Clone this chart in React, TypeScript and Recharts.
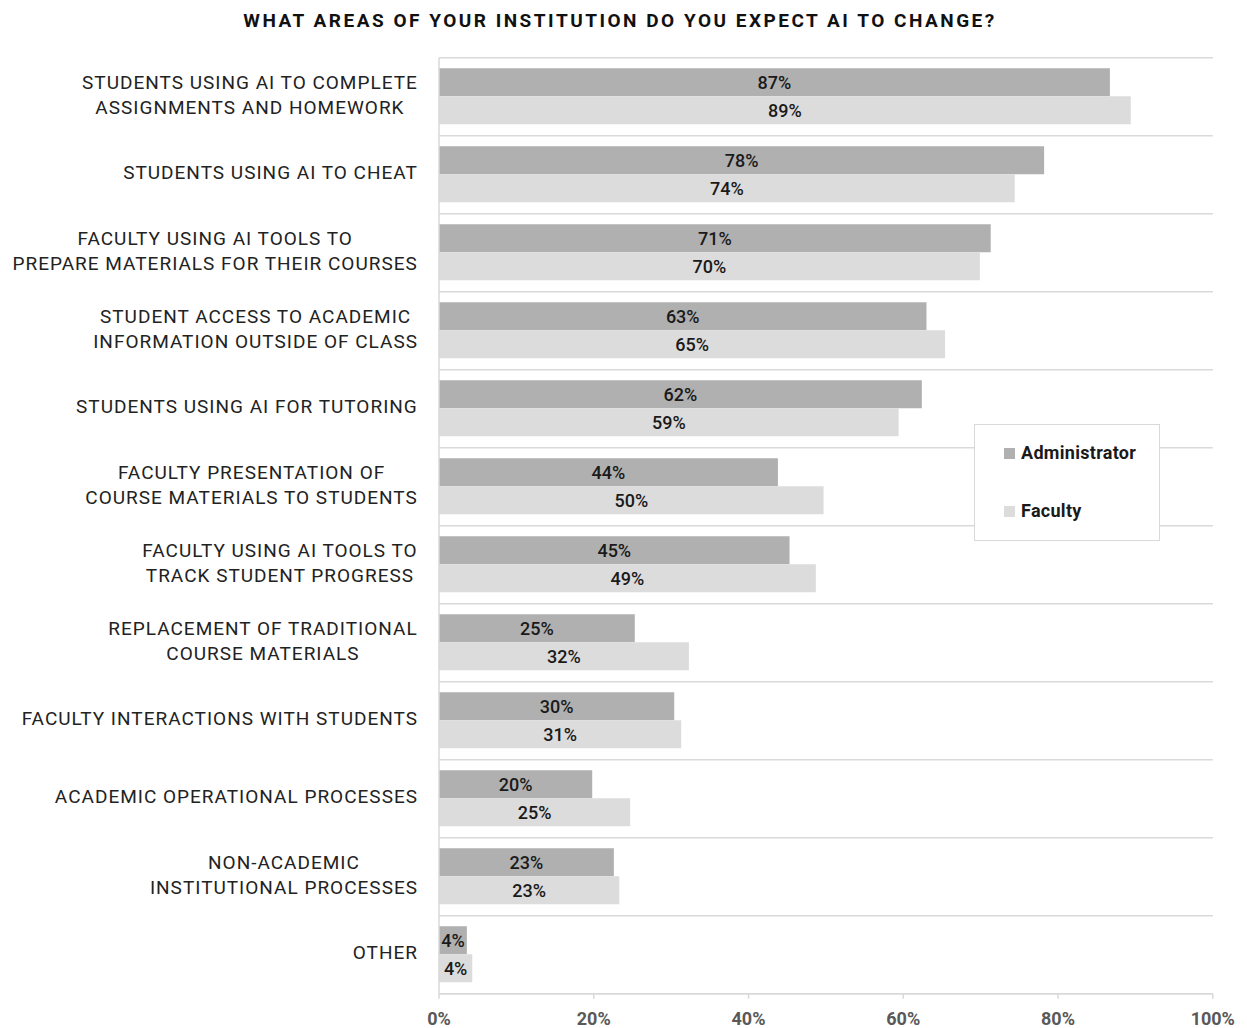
import React from 'react';
import { BarChart, Bar, XAxis, YAxis, CartesianGrid, LabelList, Legend } from 'recharts';

const categories = [
  'STUDENTS USING AI TO COMPLETE\nASSIGNMENTS AND HOMEWORK',
  'STUDENTS USING AI TO CHEAT',
  'FACULTY USING AI TOOLS TO\nPREPARE MATERIALS FOR THEIR COURSES',
  'STUDENT ACCESS TO ACADEMIC\nINFORMATION OUTSIDE OF CLASS',
  'STUDENTS USING AI FOR TUTORING',
  'FACULTY PRESENTATION OF\nCOURSE MATERIALS TO STUDENTS',
  'FACULTY USING AI TOOLS TO\nTRACK STUDENT PROGRESS',
  'REPLACEMENT OF TRADITIONAL\nCOURSE MATERIALS',
  'FACULTY INTERACTIONS WITH STUDENTS',
  'ACADEMIC OPERATIONAL PROCESSES',
  'NON-ACADEMIC\nINSTITUTIONAL PROCESSES',
  'OTHER',
];

const administrator = [86.7, 78.2, 71.3, 63.0, 62.4, 43.8, 45.3, 25.3, 30.4, 19.8, 22.6, 3.6];
const faculty = [89.4, 74.4, 69.9, 65.4, 59.4, 49.7, 48.7, 32.3, 31.3, 24.7, 23.3, 4.3];

const xTicks = [0, 20, 40, 60, 80, 100];

const seriesNames = ['Administrator', 'Faculty'];
const seriesColors = ['#b0b0b0', '#dcdcdc'];

const data = categories.map((c, i) => ({
  category: c,
  Administrator: administrator[i],
  Faculty: faculty[i],
}));

const FONT = 'Roboto, "Noto Sans", sans-serif';
const LABEL_SIZE = 19;
const LABEL_LS = 1;

let measureCtx: CanvasRenderingContext2D | null = null;
function measure(text: string): number {
  if (!measureCtx) {
    const c = document.createElement('canvas');
    measureCtx = c.getContext('2d');
  }
  const ctx = measureCtx as any;
  ctx.font = `400 ${LABEL_SIZE}px Roboto`;
  let w = ctx.measureText(text).width;
  w += LABEL_LS * text.length;
  return w;
}

const CategoryTick = (props: any) => {
  const { x, y, payload } = props;
  const lines: string[] = String(payload.value).split('\n');
  const widths = lines.map(measure);
  const maxW = Math.max(...widths);
  const cx = x - maxW / 2;
  const lh = 25;
  const startY = y - 2 - ((lines.length - 1) * lh) / 2;
  return (
    <g>
      {lines.map((l, i) => (
        <text
          key={i}
          x={cx}
          y={startY + i * lh}
          textAnchor="middle"
          dominantBaseline="central"
          fill="#222"
          style={{ fontFamily: FONT, fontSize: LABEL_SIZE, letterSpacing: LABEL_LS, fontWeight: 400 }}
        >
          {l}
        </text>
      ))}
    </g>
  );
};

const gridGenerator = (args: any) => {
  const { offset } = args;
  const n = categories.length;
  const out: number[] = [];
  for (let i = 0; i <= n; i++) out.push(offset.top + (i * offset.height) / n);
  return out;
};

const LegendBox = () => (
  <div
    style={{
      position: 'relative',
      width: 186,
      height: 117,
      boxSizing: 'border-box',
      border: '1.5px solid #d9d9d9',
      background: '#fff',
      fontFamily: FONT,
    }}
  >
    {seriesNames.map((name, i) => (
      <div key={name}>
        <div
          style={{
            position: 'absolute',
            left: 29,
            top: 23 + i * 58,
            width: 11,
            height: 11,
            background: seriesColors[i],
          }}
        />
        <div
          style={{
            position: 'absolute',
            left: 46,
            top: 17 + i * 58,
            height: 22,
            lineHeight: '22px',
            fontSize: 18,
            fontWeight: 700,
            letterSpacing: 0.3,
            color: '#1a1a1a',
            whiteSpace: 'nowrap',
          }}
        >
          {name}
        </div>
      </div>
    ))}
  </div>
);

const labelStyle = { fontFamily: FONT, fontSize: 18, fontWeight: 500, fill: '#1a1a1a' };

export default function App() {
  return (
    <div
      style={{
        position: 'absolute',
        left: 0,
        top: 0,
        width: 1247,
        height: 1028,
        overflow: 'hidden',
        background: '#fff',
        fontFamily: FONT,
      }}
    >
      <div
        style={{
          position: 'absolute',
          left: 0,
          top: 11,
          width: 1240,
          textAlign: 'center',
          fontSize: 19,
          lineHeight: '19px',
          fontWeight: 700,
          letterSpacing: 2.5,
          color: '#111',
          whiteSpace: 'nowrap',
        }}
      >
        WHAT AREAS OF YOUR INSTITUTION DO YOU EXPECT AI TO CHANGE?
      </div>
      <BarChart
        width={1247}
        height={1028}
        data={data}
        layout="vertical"
        margin={{ top: 57.7, right: 34.2, bottom: 4.3, left: 9 }}
        barCategoryGap="13.5%"
        barGap={0}
      >
        <CartesianGrid
          vertical={false}
          stroke="#d9d9d9"
          strokeWidth={1.5}
          horizontalCoordinatesGenerator={gridGenerator}
        />
        <XAxis
          type="number"
          domain={[0, 100]}
          ticks={xTicks}
          tickFormatter={(v: number) => `${v}%`}
          height={30}
          axisLine={{ stroke: '#d9d9d9', strokeWidth: 1.5 }}
          tickLine={{ stroke: '#d9d9d9', strokeWidth: 1.5 }}
          tickSize={5}
          tickMargin={14}
          interval={0}
          tick={{ fill: '#595959', fontSize: 18, fontWeight: 700, fontFamily: FONT }}
        />
        <YAxis
          type="category"
          dataKey="category"
          width={430}
          axisLine={{ stroke: '#d9d9d9', strokeWidth: 1.5 }}
          tickLine={false}
          tickSize={0}
          tickMargin={21}
          interval={0}
          tick={<CategoryTick />}
        />
        <Legend
          layout="vertical"
          align="center"
          verticalAlign="middle"
          wrapperStyle={{ left: 974, top: 424, width: 186, height: 117 }}
          content={() => <LegendBox />}
        />
        {seriesNames.map((name, i) => (
          <Bar key={name} dataKey={name} fill={seriesColors[i]} isAnimationActive={false}>
            <LabelList
              dataKey={name}
              position="center"
              formatter={(v: any) => `${Math.round(Number(v))}%`}
              style={labelStyle}
            />
          </Bar>
        ))}
      </BarChart>
    </div>
  );
}
